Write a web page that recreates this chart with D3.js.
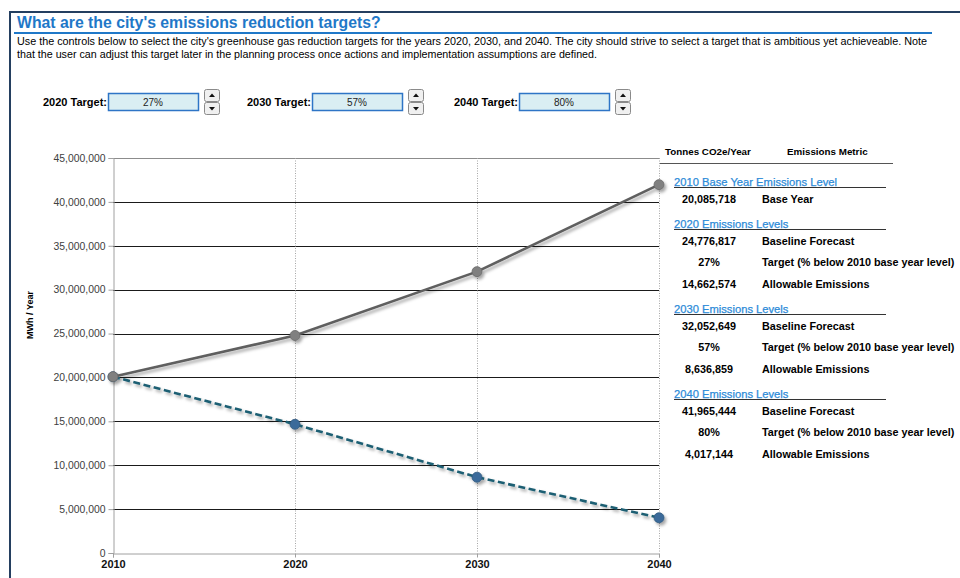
<!DOCTYPE html>
<html>
<head>
<meta charset="utf-8">
<script src="https://cdn.jsdelivr.net/npm/d3@7"></script>
<style>
  html, body { margin: 0; padding: 0; background: #fff; }
  svg { display: block; font-family: Arial, "Liberation Sans", sans-serif; }
</style>
</head>
<body>
<svg id="chart" width="960" height="578"></svg>
<script>
// Emissions series (tonnes CO2e / year)
const years = [2010, 2020, 2030, 2040];
const baselineForecast = [20085718, 24776817, 32052649, 41965444];
const allowableEmissions = [20085718, 14662574, 8636859, 4017144];
const targetYears = [2020, 2030, 2040];
const targetPercents = [27, 57, 80];
const yTickValues = [0, 5000000, 10000000, 15000000, 20000000, 25000000, 30000000, 35000000, 40000000, 45000000];

const titleText = "What are the city's emissions reduction targets?";
const introLines = [
  "Use the controls below to select the city's greenhouse gas reduction targets for the years 2020, 2030, and 2040. The city should strive to select a target that is ambitious yet achieveable. Note",
  "that the user can adjust this target later in the planning process once actions and implementation assumptions are defined."
];
const introWidths = [910, 580];

const svg = d3.select("#chart");
const fmt = d3.format(",");

// drop shadow used by the series lines and markers
const defs = svg.append("defs");
const f = defs.append("filter").attr("id", "shadow")
  .attr("x", "-20%").attr("y", "-20%").attr("width", "140%").attr("height", "160%");
f.append("feDropShadow").attr("dx", 2).attr("dy", 2.5).attr("stdDeviation", 1.6)
  .attr("flood-color", "#000").attr("flood-opacity", 0.35);

// page frame
svg.append("line").attr("x1", 10).attr("x2", 960).attr("y1", 12).attr("y2", 12)
  .attr("stroke", "#243f60").attr("stroke-width", 2);
svg.append("line").attr("x1", 10).attr("x2", 10).attr("y1", 11).attr("y2", 578)
  .attr("stroke", "#243f60").attr("stroke-width", 2);

// heading
svg.append("text").attr("x", 17).attr("y", 28)
  .attr("font-size", 15.8).attr("font-weight", "bold").attr("fill", "#1f78c8")
  .text(titleText);
svg.append("line").attr("x1", 14).attr("x2", 932).attr("y1", 33).attr("y2", 33)
  .attr("stroke", "#1f78c8").attr("stroke-width", 2);
svg.selectAll("text.intro").data(introLines).join("text")
  .attr("class", "intro")
  .attr("x", 17).attr("y", (d, i) => 45 + i * 13)
  .attr("font-size", 10.2).attr("fill", "#000")
  .attr("textLength", (d, i) => introWidths[i]).attr("lengthAdjust", "spacingAndGlyphs")
  .text(d => d);

// target controls
const controls = svg.append("g");
const ctrlX = [108, 312, 519];
targetYears.forEach((yr, i) => {
  const g = controls.append("g").attr("transform", `translate(${ctrlX[i]},0)`);
  g.append("text").attr("x", -1).attr("y", 106).attr("text-anchor", "end")
    .attr("font-size", 11).attr("font-weight", "bold").text(`${yr} Target:`);
  g.append("rect").attr("x", 0.5).attr("y", 93.5).attr("width", 90).attr("height", 17)
    .attr("fill", "#daeef3").attr("stroke", "#2e75c6").attr("stroke-width", 1.5);
  g.append("text").attr("x", 45).attr("y", 106).attr("text-anchor", "middle")
    .attr("font-size", 10).attr("fill", "#222").text(`${targetPercents[i]}%`);
  // spinner
  const s = g.append("g").attr("transform", "translate(96,89)");
  [0, 13].forEach((dy, k) => {
    s.append("rect").attr("x", 0.5).attr("y", dy + 0.5).attr("width", 15).attr("height", 12)
      .attr("rx", 2).attr("fill", "#f0f0f0").attr("stroke", "#8a8a8a");
    const cy = dy + 6.5;
    const pts = k === 0
      ? [[8, cy - 2], [5, cy + 1.5], [11, cy + 1.5]]
      : [[8, cy + 2], [5, cy - 1.5], [11, cy - 1.5]];
    s.append("path").attr("d", "M" + pts.join("L") + "Z").attr("fill", "#111");
  });
});

// chart scales
const x = d3.scaleLinear().domain([2010, 2040]).range([113, 659]);
const y = d3.scaleLinear().domain([0, 45000000]).range([553, 158]);

const plot = svg.append("g");

// horizontal gridlines
plot.selectAll("line.hgrid").data(yTickValues.filter(v => v > 0)).join("line")
  .attr("class", "hgrid")
  .attr("x1", 113).attr("x2", 659)
  .attr("y1", d => Math.round(y(d)) + 0.5).attr("y2", d => Math.round(y(d)) + 0.5)
  .attr("stroke", d => d === 45000000 ? "#8c8c8c" : "#1a1a1a").attr("stroke-width", 1);

// vertical dotted gridlines
plot.selectAll("line.vgrid").data(years.slice(1)).join("line")
  .attr("class", "vgrid")
  .attr("x1", d => Math.round(x(d)) + 0.5).attr("x2", d => Math.round(x(d)) + 0.5)
  .attr("y1", 158).attr("y2", 553)
  .attr("stroke", "#a6a6a6").attr("stroke-dasharray", "1,1.5");

// y axis
const yAxis = d3.axisLeft(y).tickValues(yTickValues).tickFormat(fmt).tickSize(5).tickPadding(3);
const ya = plot.append("g").attr("transform", "translate(113.5,0)").call(yAxis);
ya.select(".domain").attr("stroke", "#a0a0a0");
ya.selectAll(".tick line").attr("stroke", "#a0a0a0");
ya.selectAll(".tick text").attr("font-size", 10.4).attr("fill", "#404040")
  .attr("font-family", "Arial, 'Liberation Sans', sans-serif");

// x axis
const xAxis = d3.axisBottom(x).tickValues(years).tickFormat(d3.format("d")).tickSize(4).tickPadding(3);
const xa = plot.append("g").attr("transform", "translate(0,553.5)").call(xAxis);
xa.select(".domain").attr("stroke", "#a0a0a0");
xa.selectAll(".tick line").attr("stroke", "#a0a0a0");
xa.selectAll(".tick text").attr("font-size", 11).attr("font-weight", "bold").attr("fill", "#111")
  .attr("font-family", "Arial, 'Liberation Sans', sans-serif");

// y axis title
svg.append("text").attr("transform", "translate(33,315) rotate(-90)")
  .attr("text-anchor", "middle").attr("font-size", 9).attr("font-weight", "bold")
  .text("MWh / Year");

// series
const line = d3.line().x(d => x(d[0])).y(d => y(d[1]));
const allowPts = years.map((yr, i) => [yr, allowableEmissions[i]]);
const basePts = years.map((yr, i) => [yr, baselineForecast[i]]);

const series = svg.append("g").attr("filter", "url(#shadow)");
series.append("path").datum(allowPts).attr("d", line)
  .attr("fill", "none").attr("stroke", "#1f5f73").attr("stroke-width", 2.6)
  .attr("stroke-dasharray", "7,3.5");
series.selectAll("circle.allow").data(allowPts).join("circle")
  .attr("class", "allow")
  .attr("cx", d => x(d[0])).attr("cy", d => y(d[1])).attr("r", 5)
  .attr("fill", "#3a6b9a").attr("stroke", "#31597f").attr("stroke-width", 0.8);

series.append("path").datum(basePts).attr("d", line)
  .attr("fill", "none").attr("stroke", "#5f5f5f").attr("stroke-width", 2.6);
series.selectAll("circle.base").data(basePts).join("circle")
  .attr("class", "base")
  .attr("cx", d => x(d[0])).attr("cy", d => y(d[1])).attr("r", 5)
  .attr("fill", "#808080").attr("stroke", "#6a6a6a").attr("stroke-width", 0.8);

// summary table
const table = svg.append("g");
table.append("text").attr("x", 665).attr("y", 155).attr("font-size", 9.8).attr("font-weight", "bold")
  .text("Tonnes CO2e/Year");
table.append("text").attr("x", 787).attr("y", 155).attr("font-size", 9.8).attr("font-weight", "bold")
  .text("Emissions Metric");
table.append("line").attr("x1", 660).attr("x2", 893).attr("y1", 163.5).attr("y2", 163.5)
  .attr("stroke", "#555");

const sections = [
  { heading: "2010 Base Year Emissions Level", rows: [[fmt(baselineForecast[0]), "Base Year"]] }
];
targetYears.forEach((yr, i) => {
  sections.push({
    heading: `${yr} Emissions Levels`,
    rows: [
      [fmt(baselineForecast[i + 1]), "Baseline Forecast"],
      [`${targetPercents[i]}%`, "Target (% below 2010 base year level)"],
      [fmt(allowableEmissions[i + 1]), "Allowable Emissions"]
    ]
  });
});

const headingY = [186, 228, 313, 398];
sections.forEach((sec, si) => {
  const hy = headingY[si];
  table.append("text").attr("x", 674).attr("y", hy).attr("font-size", 11.2).attr("fill", "#2d8bd8")
    .attr("stroke", "#2d8bd8").attr("stroke-width", 0.25)
    .text(sec.heading);
  table.append("line").attr("x1", 674).attr("x2", 886).attr("y1", hy + 1.5).attr("y2", hy + 1.5)
    .attr("stroke", "#333");
  sec.rows.forEach((r, ri) => {
    const ry = hy + 17 + ri * 21.3;
    table.append("text").attr("x", 709).attr("y", ry).attr("text-anchor", "middle")
      .attr("font-size", 10.8).attr("font-weight", "bold").text(r[0]);
    table.append("text").attr("x", 762).attr("y", ry)
      .attr("font-size", 10.8).attr("font-weight", "bold").text(r[1]);
  });
});
</script>
</body>
</html>
